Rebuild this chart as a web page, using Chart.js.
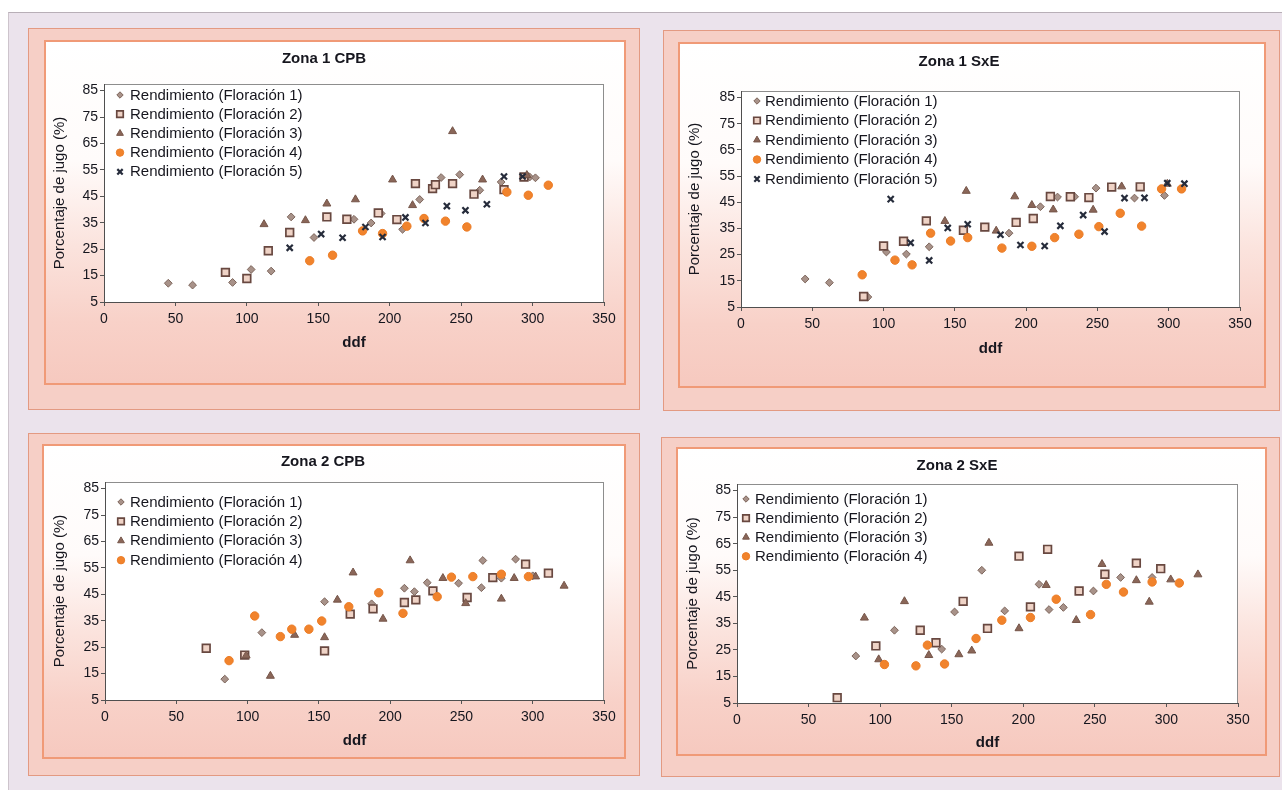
<!DOCTYPE html>
<html>
<head>
<meta charset="utf-8">
<title>Porcentaje de jugo frente a ddf</title>
<script src="https://cdn.jsdelivr.net/npm/chart.js@4.4.1/dist/chart.umd.min.js"></script>
<style>
  html, body { margin: 0; padding: 0; background: #ffffff; }
  body { width: 1282px; height: 790px; position: relative; overflow: hidden; }
  #sheet { position: absolute; left: 8px; top: 12px; right: 0; bottom: 0;
           background: #ebe3ec; border-top: 1px solid #b8afb7; border-left: 1px solid #cdc4cc; }
  .outer { position: absolute; box-sizing: border-box; background: #f6cfc6; border: 1px solid #e39a82; }
  .inner { position: absolute; box-sizing: border-box; border: 2px solid #f09a77;
           background: linear-gradient(180deg, #ffffff 0%, #fffbfa 35%, #fbe3dd 60%, #f8d1c8 82%, #f6c9bf 100%); }
  canvas { position: absolute; }
</style>
</head>
<body>
<div id="sheet"></div>
<script>
// ---- axis ticks -------------------------------------------------------
const ddfTicks  = [0, 50, 100, 150, 200, 250, 300, 350];
const jugoTicks = [5, 15, 25, 35, 45, 55, 65, 75, 85];

const seriesNames = [
  'Rendimiento (Floración 1)',
  'Rendimiento (Floración 2)',
  'Rendimiento (Floración 3)',
  'Rendimiento (Floración 4)',
  'Rendimiento (Floración 5)'
];

// ---- Zona 1 CPB : [ddf, % jugo] ---------------------------------------
const z1cpb_f1 = [[45,12.1],[62,11.4],[90,12.4],[103,17.3],[117,16.7],[131,37.2],[147,29.4],[175,36.3],[187,34.9],[194,38.5],[209,32.5],[221,43.8],[236,52.1],[249,53.2],[263,47.3],[278,50.4],[298,52.3],[302,52.0]];
const z1cpb_f2 = [[85,16.2],[100,13.9],[115,24.4],[130,31.3],[156,37.2],[170,36.3],[192,38.7],[205,36.2],[218,49.8],[230,47.9],[232,49.4],[244,49.8],[259,45.8],[280,47.5],[294,52.3]];
const z1cpb_f3 = [[112,34.4],[141,35.9],[156,42.2],[176,43.8],[202,51.3],[216,41.6],[244,69.6],[265,51.3],[296,53.0]];
const z1cpb_f4 = [[144,20.6],[160,22.7],[181,31.9],[195,30.9],[212,33.7],[224,36.6],[239,35.6],[254,33.4],[282,46.6],[297,45.4],[311,49.2]];
const z1cpb_f5 = [[130,25.5],[152,30.7],[167,29.3],[183,33.4],[195,29.6],[211,37.0],[225,34.9],[240,41.3],[253,39.7],[268,42.0],[280,52.5],[293,52.5]];

// ---- Zona 1 SxE -------------------------------------------------------
const z1sxe_f1 = [[45,15.7],[62,14.3],[89,8.8],[102,26.0],[116,25.2],[132,28.0],[188,33.2],[210,43.3],[222,47.0],[234,47.1],[249,50.4],[276,46.6],[297,47.6]];
const z1sxe_f2 = [[86,9.0],[100,28.3],[114,30.1],[130,37.9],[156,34.3],[171,35.5],[193,37.3],[205,38.8],[217,47.2],[231,47.1],[244,46.8],[260,50.8],[280,50.9]];
const z1sxe_f3 = [[143,37.8],[158,49.3],[179,34.1],[192,47.2],[204,43.9],[219,42.2],[247,42.1],[267,51.0],[299,52.0]];
const z1sxe_f4 = [[85,17.3],[108,22.9],[120,21.1],[133,33.2],[147,30.2],[159,31.5],[183,27.5],[204,28.2],[220,31.5],[237,32.8],[251,35.7],[266,40.8],[281,35.9],[295,50.1],[309,50.1]];
const z1sxe_f5 = [[105,46.2],[119,29.5],[132,22.8],[145,35.2],[159,36.6],[182,32.6],[196,28.7],[213,28.3],[224,36.0],[240,40.1],[255,33.8],[269,46.6],[283,46.7],[299,52.3],[311,52.1]];

// ---- Zona 2 CPB -------------------------------------------------------
const z2cpb_f1 = [[84,12.9],[110,30.5],[154,42.2],[187,41.4],[210,47.3],[217,46.0],[226,49.4],[248,49.2],[264,47.5],[265,57.8],[278,51.1],[288,58.3],[300,52.0]];
const z2cpb_f2 = [[71,24.6],[98,22.0],[154,23.6],[172,37.5],[188,39.5],[210,41.9],[218,42.9],[230,46.3],[254,43.8],[272,51.3],[295,56.4],[311,53.0]];
const z2cpb_f3 = [[99,21.8],[116,14.1],[133,29.6],[154,28.7],[163,42.9],[174,53.2],[195,35.7],[214,57.8],[237,51.1],[253,41.6],[278,43.3],[287,51.1],[302,51.7],[322,48.2]];
const z2cpb_f4 = [[87,19.9],[105,36.8],[123,29.0],[131,31.8],[143,31.8],[152,34.9],[171,40.3],[192,45.6],[209,37.8],[233,44.1],[243,51.5],[258,51.7],[278,52.6],[297,51.7]];

// ---- Zona 2 SxE -------------------------------------------------------
const z2sxe_f1 = [[83,22.7],[110,32.4],[143,25.3],[152,39.3],[171,55.0],[187,39.7],[211,49.7],[218,40.2],[228,41.0],[249,47.2],[268,52.3],[290,52.3]];
const z2sxe_f2 = [[70,7.0],[97,26.5],[128,32.4],[139,27.7],[158,43.3],[175,33.1],[197,60.3],[205,41.2],[217,62.9],[239,47.2],[257,53.5],[279,57.7],[296,55.6]];
const z2sxe_f3 = [[89,37.1],[99,21.4],[117,43.3],[134,23.0],[155,23.3],[164,24.7],[176,65.3],[197,33.1],[216,49.4],[237,36.2],[255,57.3],[279,51.2],[288,43.1],[303,51.5],[322,53.4]];
const z2sxe_f4 = [[103,19.5],[125,19.0],[133,26.8],[145,19.7],[167,29.3],[185,36.2],[205,37.2],[223,44.1],[247,38.3],[258,49.7],[270,46.8],[290,50.6],[309,50.2]];

// ---- marker look of each flowering --------------------------------------
const seriesStyles = [
  { pointStyle: 'rectRot',  radius: 3.9, legendRadius: 3.2, backgroundColor: '#a89289', borderColor: '#7e665c', borderWidth: 1 },
  { pointStyle: 'rect',     radius: 5.4, legendRadius: 4.6, backgroundColor: '#efd3c6', borderColor: '#684840', borderWidth: 1.7 },
  { pointStyle: 'triangle', radius: 4.6, legendRadius: 3.9, backgroundColor: '#8a6658', borderColor: '#76564a', borderWidth: 1 },
  { pointStyle: 'circle',   radius: 4.2, legendRadius: 3.7, backgroundColor: '#f1832c', borderColor: '#ec7d27', borderWidth: 1 },
  { pointStyle: 'crossRot', radius: 4.3, legendRadius: 3.8, backgroundColor: '#262c3b', borderColor: '#262c3b', borderWidth: 2.2 }
];

// ---- page layout of the four panels (page pixels) ------------------------
const panels = [
  { title: 'Zona 1 CPB', series: [z1cpb_f1, z1cpb_f2, z1cpb_f3, z1cpb_f4, z1cpb_f5],
    outer: [28, 28, 640, 410], inner: [44, 40, 626, 385], plot: [104, 84, 604, 302],
    titleY: 59, yTitleX: 60, ddfY: 343, legend: { mx: 120, tx: 130, y0: 95, dy: 19.2 } },
  { title: 'Zona 1 SxE', series: [z1sxe_f1, z1sxe_f2, z1sxe_f3, z1sxe_f4, z1sxe_f5],
    outer: [663, 30, 1280, 411], inner: [678, 42, 1266, 388], plot: [741, 91, 1240, 307],
    titleY: 62, yTitleX: 695, ddfY: 349, legend: { mx: 757, tx: 765, y0: 101, dy: 19.5 } },
  { title: 'Zona 2 CPB', series: [z2cpb_f1, z2cpb_f2, z2cpb_f3, z2cpb_f4],
    outer: [28, 433, 640, 776], inner: [42, 444, 626, 759], plot: [105, 482, 604, 700],
    titleY: 462, yTitleX: 60, ddfY: 741, legend: { mx: 121, tx: 130, y0: 502, dy: 19.4 } },
  { title: 'Zona 2 SxE', series: [z2sxe_f1, z2sxe_f2, z2sxe_f3, z2sxe_f4],
    outer: [661, 437, 1280, 777], inner: [676, 447, 1267, 756], plot: [737, 484, 1238, 703],
    titleY: 466, yTitleX: 693, ddfY: 743, legend: { mx: 746, tx: 755, y0: 499, dy: 19.1 } }
];

// ---- fonts: condensed face when present, regular one scaled down otherwise
const hasNarrow = (() => {
  const c = document.createElement('canvas').getContext('2d');
  const probe = 'Rendimiento (Floración) 0123';
  c.font = '40px monospace';
  const base = c.measureText(probe).width;
  c.font = '40px "Liberation Sans Narrow", monospace';
  return c.measureText(probe).width !== base;
})();
const family = hasNarrow ? '"Liberation Sans Narrow", "Liberation Sans", sans-serif'
                         : '"Liberation Sans", Arial, sans-serif';
const fs = n => hasNarrow ? n : Math.round(n * 0.84);
const textColor = '#16161e';

Chart.defaults.font.family = family;
Chart.defaults.color = textColor;

// white plot area with a light frame
const plotFrame = {
  id: 'plotFrame',
  beforeDraw(chart) {
    const { ctx, chartArea: a } = chart;
    ctx.save();
    ctx.fillStyle = '#ffffff';
    ctx.fillRect(a.left, a.top, a.width, a.height);
    ctx.strokeStyle = '#8d8d8d';
    ctx.lineWidth = 1;
    ctx.strokeRect(Math.round(a.left) + 0.5, Math.round(a.top) + 0.5,
                   Math.round(a.width) - 1, Math.round(a.height));
    ctx.restore();
  }
};

// legend drawn inside the plot, upper-left, one row per flowering
const plotLegend = {
  id: 'plotLegend',
  afterDraw(chart, args, opts) {
    const ctx = chart.ctx;
    ctx.save();
    ctx.font = `${opts.size}px ${family}`;
    ctx.textBaseline = 'middle';
    ctx.textAlign = 'left';
    chart.data.datasets.forEach((ds, i) => {
      const y = opts.y0 + i * opts.dy;
      ctx.fillStyle = ds.backgroundColor;
      ctx.strokeStyle = ds.borderColor;
      ctx.lineWidth = ds.borderWidth;
      Chart.helpers.drawPoint(ctx, {
        pointStyle: ds.pointStyle, radius: ds.legendRadius, rotation: 0, borderWidth: ds.borderWidth
      }, opts.mx, y);
      ctx.fillStyle = textColor;
      ctx.fillText(ds.label, opts.tx, y + 0.5);
    });
    ctx.restore();
  }
};

function buildPanel(p) {
  const [oL, oT, oR, oB] = p.outer;
  const [iL, iT, iR, iB] = p.inner;
  const [pL, pT, pR, pB] = p.plot;

  const outer = document.createElement('div');
  outer.className = 'outer';
  Object.assign(outer.style, { left: oL + 'px', top: oT + 'px', width: (oR - oL) + 'px', height: (oB - oT) + 'px' });
  document.body.appendChild(outer);

  const inner = document.createElement('div');
  inner.className = 'inner';
  Object.assign(inner.style, { left: iL + 'px', top: iT + 'px', width: (iR - iL) + 'px', height: (iB - iT) + 'px' });
  document.body.appendChild(inner);

  const W = iR - iL, H = iB - iT;
  const canvas = document.createElement('canvas');
  canvas.width = W; canvas.height = H;
  Object.assign(canvas.style, { left: iL + 'px', top: iT + 'px', width: W + 'px', height: H + 'px' });
  document.body.appendChild(canvas);

  const titleSize = fs(18), titleLH = titleSize * 1.2;
  const titlePadTop = (p.titleY - iT) - titleLH / 2;
  const titlePadBottom = (pT - iT) - titlePadTop - titleLH;

  const axisTitleSize = fs(18), axisLH = axisTitleSize * 1.2;
  const yScaleW = pL - iL;
  const xScaleH = iB - pB;

  const datasets = p.series.map((pts, i) => ({
    label: seriesNames[i],
    data: pts.map(([x, y]) => ({ x, y })),
    order: p.series.length - i,
    showLine: false,
    pointStyle: seriesStyles[i].pointStyle,
    pointRadius: seriesStyles[i].radius,
    pointBorderWidth: seriesStyles[i].borderWidth,
    pointBackgroundColor: seriesStyles[i].backgroundColor,
    pointBorderColor: seriesStyles[i].borderColor,
    backgroundColor: seriesStyles[i].backgroundColor,
    borderColor: seriesStyles[i].borderColor,
    borderWidth: seriesStyles[i].borderWidth,
    legendRadius: seriesStyles[i].legendRadius
  }));

  new Chart(canvas, {
    type: 'scatter',
    data: { datasets },
    plugins: [plotFrame, plotLegend],
    options: {
      responsive: false,
      devicePixelRatio: 1,
      animation: false,
      events: [],
      layout: { padding: { left: 0, top: 0, right: iR - pR, bottom: 0 } },
      plugins: {
        legend: { display: false },
        tooltip: { enabled: false },
        title: {
          display: true, text: p.title, color: textColor,
          font: { size: titleSize, weight: 'bold', lineHeight: 1.2 },
          padding: { top: titlePadTop, bottom: titlePadBottom }
        },
        plotLegend: {
          size: fs(18),
          mx: p.legend.mx - iL, tx: p.legend.tx - iL,
          y0: p.legend.y0 - iT, dy: p.legend.dy
        }
      },
      scales: {
        x: {
          type: 'linear', position: 'bottom', min: 0, max: 350,
          afterBuildTicks: s => { s.ticks = ddfTicks.map(v => ({ value: v })); },
          afterFit: s => { s.height = xScaleH; },
          ticks: { color: textColor, font: { size: fs(17), lineHeight: 1.2 }, padding: 5, maxRotation: 0, autoSkip: false },
          grid: { drawOnChartArea: false, drawTicks: true, tickLength: 4, color: '#555555', lineWidth: 1 },
          border: { display: true, color: '#4f4f4f', width: 1 },
          title: {
            display: true, text: 'ddf', color: textColor,
            font: { size: axisTitleSize, weight: 'bold', lineHeight: 1.2 },
            padding: { top: 0, bottom: (iB - p.ddfY) - axisLH / 2 }
          }
        },
        y: {
          type: 'linear', position: 'left', min: 5, max: 87.5,
          afterBuildTicks: s => { s.ticks = jugoTicks.map(v => ({ value: v })); },
          afterFit: s => { s.width = yScaleW; },
          ticks: { color: textColor, font: { size: fs(17), lineHeight: 1.2 }, padding: 2, autoSkip: false },
          grid: { drawOnChartArea: false, drawTicks: true, tickLength: 4, color: '#555555', lineWidth: 1 },
          border: { display: true, color: '#4f4f4f', width: 1 },
          title: {
            display: true, text: 'Porcentaje de jugo (%)', color: textColor,
            font: { size: axisTitleSize, lineHeight: 1.2 },
            padding: { top: (p.yTitleX - iL) - axisLH / 2, bottom: 0 }
          }
        }
      }
    }
  });
}

panels.forEach(buildPanel);
</script>
</body>
</html>
